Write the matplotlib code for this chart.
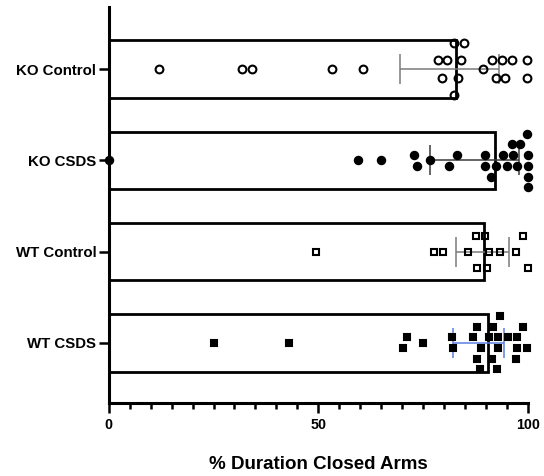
import numpy as np
import matplotlib
matplotlib.use('Agg')
import matplotlib.pyplot as plt
from matplotlib.ticker import MultipleLocator

plt.rcParams['font.family'] = ['Liberation Sans', 'DejaVu Sans']
plt.rcParams['font.weight'] = 'bold'

# grupos (de cima para baixo)
grupos = ['KO Control', 'KO CSDS', 'WT Control', 'WT CSDS']

# altura das barras
barras = [83.0, 92.2, 89.6, 90.6]
# limites das barras de erro (inferior, superior)
erro_inf = [69.5, 76.7, 82.9, 82.1]
erro_sup = [93.2, 98.0, 95.5, 94.4]

# valores individuais e deslocamento vertical (swarm)
ko_control = [11.9, 31.9, 34.1, 53.4, 60.6, 89.3,
              78.6, 80.8, 84.2, 91.6, 93.9, 96.2, 99.8,
              79.5, 83.4, 92.4, 94.7, 99.8,
              82.4, 84.8, 82.4]
ko_control_off = [0, 0, 0, 0, 0, 0,
                  -0.1, -0.1, -0.1, -0.1, -0.1, -0.1, -0.1,
                  0.1, 0.1, 0.1, 0.1, 0.1,
                  -0.29, -0.29, 0.28]

ko_csds = [0.0, 59.4, 64.9, 72.9, 73.5, 76.8, 81.1, 83.1, 89.8, 89.8,
           91.2, 92.4, 94.2, 95.1, 96.6, 97.5, 96.2, 98.2, 99.8,
           100.0, 100.0, 100.0, 100.0]
ko_csds_off = [0, 0, 0, -0.06, 0.06, 0, 0.06, -0.06, -0.06, 0.06,
               0.18, 0.06, -0.06, 0.06, -0.06, 0.06, -0.18, -0.18, -0.29,
               -0.06, 0.06, 0.18, 0.29]

wt_control = [49.4, 77.6, 79.7, 85.8, 87.7, 89.8, 90.8, 93.4, 97.2,
              98.8, 87.8, 90.4, 100.0]
wt_control_off = [0, 0, 0, 0, -0.17, -0.17, 0, 0, 0,
                  -0.17, 0.18, 0.18, 0.18]

wt_csds = [25.0, 43.1, 71.3, 70.3, 74.9, 81.9, 82.2, 86.9, 87.8, 88.8,
           87.8, 88.6, 90.8, 91.8, 91.6, 92.6, 93.0, 93.0, 93.4, 95.4,
           97.4, 97.4, 97.2, 99.0, 99.9]
wt_csds_off = [0, 0, -0.06, 0.06, 0, -0.06, 0.06, -0.06, -0.18, 0.06,
               0.18, 0.29, -0.06, -0.18, 0.18, 0.29, -0.06, 0.06, -0.3, -0.06,
               -0.06, 0.06, 0.18, -0.18, 0.06]

valores = [ko_control, ko_csds, wt_control, wt_csds]
desloc = [ko_control_off, ko_csds_off, wt_control_off, wt_csds_off]
marcadores = [('o', 'none', 5.6), ('o', 'black', 5.3), ('s', 'none', 5.0), ('s', 'black', 5.0)]
cores_erro = ['#7a7a7a', '#3a3a3a', '#7a7a7a', '#5b80e0']

fig = plt.figure(figsize=(5.44, 4.76), dpi=100)
ax = fig.add_axes([0.2, 0.153, 0.77, 0.832])

pos = np.arange(len(grupos))
ax.barh(pos, barras, height=0.63, color='white', edgecolor='black',
        linewidth=2.0, zorder=1)

for i in range(len(grupos)):
    ax.errorbar(barras[i], pos[i],
                xerr=[[barras[i] - erro_inf[i]], [erro_sup[i] - barras[i]]],
                fmt='none', ecolor=cores_erro[i], elinewidth=1.1,
                capsize=11, capthick=1.1, zorder=2)
    m, fc, ms = marcadores[i]
    ax.plot(valores[i], pos[i] + np.array(desloc[i]), linestyle='none',
            marker=m, markersize=ms, markerfacecolor=fc,
            markeredgecolor='black', markeredgewidth=1.5, zorder=3,
            clip_on=False)

ax.set_xlim(0, 100)
ax.set_ylim(3.66, -0.68)
ax.set_yticks(pos)
ax.set_yticklabels(grupos, fontsize=10.8, fontweight='bold')
ax.set_xticks([0, 50, 100])
ax.xaxis.set_minor_locator(MultipleLocator(5))
for lbl in ax.get_xticklabels():
    lbl.set_fontsize(10.3)
    lbl.set_fontweight('bold')
ax.set_xlabel('% Duration Closed Arms', fontsize=13.5, fontweight='bold',
              labelpad=17)

ax.spines['top'].set_visible(False)
ax.spines['right'].set_visible(False)
ax.spines['left'].set_linewidth(2.2)
ax.spines['bottom'].set_linewidth(2.2)
ax.tick_params(axis='both', which='major', length=7, width=1.8, pad=4)
ax.tick_params(axis='x', which='minor', length=4.5, width=1.8)
ax.tick_params(axis='y', which='major', pad=2)

fig.savefig('out.png', dpi=100)
